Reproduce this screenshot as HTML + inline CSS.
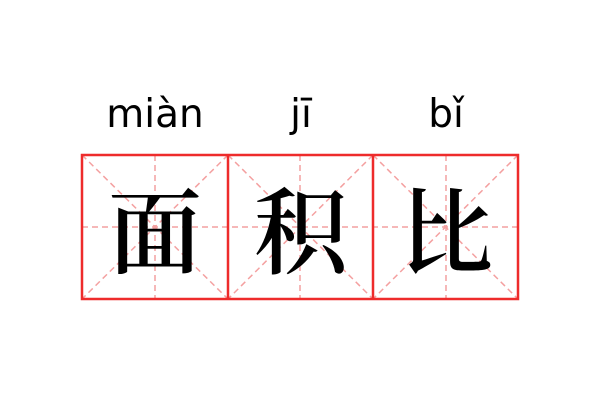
<!DOCTYPE html>
<html><head><meta charset="utf-8"><style>
body{margin:0;width:600px;height:400px;background:#fff;position:relative;overflow:hidden}
.py{position:absolute;top:92px;font-family:"DejaVu Sans","Liberation Sans",sans-serif;font-size:39px;color:#000;text-align:center;width:146px}
.ch{position:absolute;top:171px;width:146px;text-align:center;font-family:"Noto Serif CJK SC",serif;font-weight:600;font-size:94px;line-height:110px;color:#000}
</style></head><body>
<div class="py" style="left:82px">miàn</div>
<div class="py" style="left:228px">jī</div>
<div class="py" style="left:373px">bǐ</div>
<svg width="600" height="400" style="position:absolute;left:0;top:0">
<g stroke="#f4a0a0" stroke-width="1.5" stroke-dasharray="6,4" fill="none">
<line x1="82" y1="227" x2="518" y2="227"/>
<line x1="155" y1="155" x2="155" y2="299"/>
<line x1="300" y1="155" x2="300" y2="299"/>
<line x1="446" y1="155" x2="446" y2="299"/>
<line x1="82" y1="155" x2="228" y2="299"/><line x1="228" y1="155" x2="82" y2="299"/>
<line x1="228" y1="155" x2="373" y2="299"/><line x1="373" y1="155" x2="228" y2="299"/>
<line x1="373" y1="155" x2="518" y2="299"/><line x1="518" y1="155" x2="373" y2="299"/>
</g>
<g stroke="#ee2b2b" stroke-width="2.5" fill="none">
<rect x="82" y="155" width="436" height="144"/>
<line x1="228" y1="155" x2="228" y2="299"/>
<line x1="373" y1="155" x2="373" y2="299"/>
</g>
</svg>
<div class="ch" style="left:82px">面</div>
<div class="ch" style="left:228px">积</div>
<div class="ch" style="left:373px">比</div>
</body></html>
